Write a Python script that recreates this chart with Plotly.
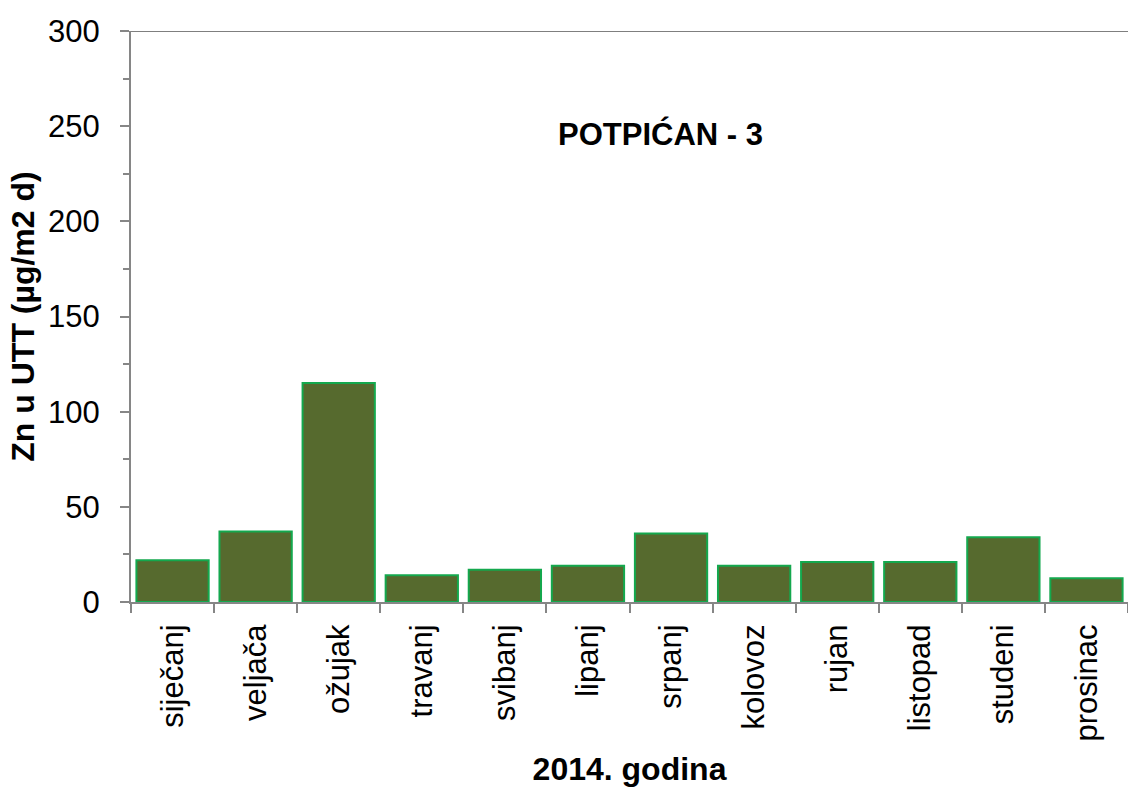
import plotly.graph_objects as go

months = ["siječanj", "veljača", "ožujak", "travanj", "svibanj", "lipanj",
          "srpanj", "kolovoz", "rujan", "listopad", "studeni", "prosinac"]
zn_values = [22, 37, 115, 14, 17, 19, 36, 19, 21, 21, 34, 12.5]

y_title = "Zn u UTT (µg/m2 d)"
x_title = "2014. godina"
chart_label = "POTPIĆAN - 3"

FONT = "Liberation Sans, Arial, sans-serif"
AXIS_GRAY = "#868686"

fig = go.Figure()
fig.add_trace(go.Bar(
    x=months, y=zn_values,
    marker=dict(color="#566A2E", line=dict(color="#14A84E", width=2)),
    width=0.87,
))

fig.add_shape(type="line", xref="paper", yref="y", x0=0, x1=1, y0=300, y1=300,
              line=dict(color="black", width=1))

fig.add_annotation(text="<b>" + chart_label + "</b>", xref="paper", yref="y",
                   x=0.531, y=246, showarrow=False,
                   font=dict(family=FONT, size=31, color="black"))

fig.update_layout(
    width=1128, height=787,
    margin=dict(l=131, r=0, t=31, b=185, autoexpand=False),
    plot_bgcolor="white", paper_bgcolor="white",
    showlegend=False,
    font=dict(family=FONT, color="black"),
    xaxis=dict(
        type="category",
        tickson="boundaries",
        ticks="outside", ticklen=9, tickcolor=AXIS_GRAY, tickwidth=2,
        showline=True, linecolor=AXIS_GRAY, linewidth=2,
        tickangle=-90,
        ticklabelstandoff=8,
        tickfont=dict(family=FONT, size=31),
        title=dict(text="<b>" + x_title + "</b>", font=dict(family=FONT, size=32), standoff=22),
        showgrid=False,
        automargin=False,
    ),
    yaxis=dict(
        range=[0, 300],
        tickvals=[0, 50, 100, 150, 200, 250, 300],
        ticks="outside", ticklen=9, tickcolor=AXIS_GRAY, tickwidth=2,
        minor=dict(tickvals=[25, 75, 125, 175, 225, 275], ticks="outside",
                   ticklen=6, tickcolor=AXIS_GRAY, tickwidth=2),
        showline=True, linecolor=AXIS_GRAY, linewidth=2,
        ticklabelstandoff=14,
        tickfont=dict(family=FONT, size=31),
        title=dict(text="<b>" + y_title + "</b>", font=dict(family=FONT, size=32), standoff=4),
        showgrid=False, zeroline=False,
        automargin=False,
    ),
)

fig.write_html("out.html",
               config={"displayModeBar": False},
               post_script="document.body.style.margin='0';document.body.style.overflow='hidden';")
